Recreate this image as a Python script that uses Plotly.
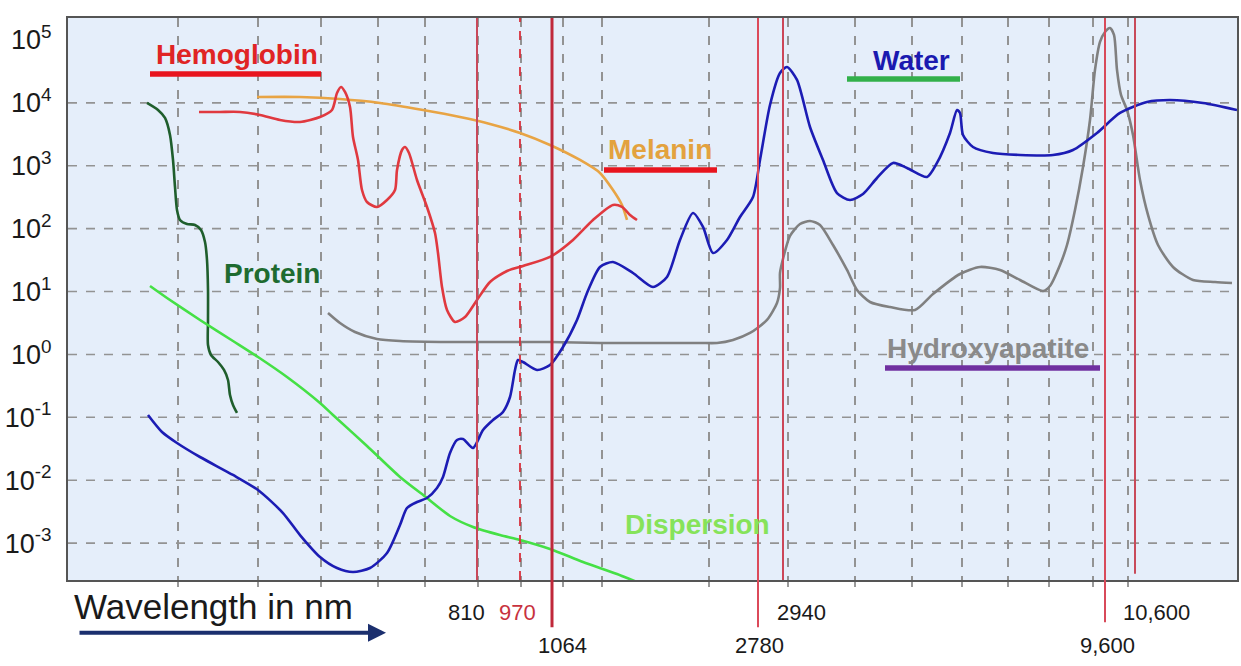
import numpy as np
import plotly.graph_objects as go

# ---- data (x = position along the schematic wavelength axis, y = log10 absorption) ----
protein_x = [147, 158, 165, 170, 173, 175, 177, 180, 187, 195, 201, 205, 207, 208, 208, 208, 211, 218, 224, 228, 230, 233, 237]
protein_log = [4.00, 3.887, 3.760, 3.490, 3.092, 2.663, 2.297, 2.138, 2.074, 2.059, 1.979, 1.788, 1.502, 1.025, 0.548, 0.150,
               -0.009, -0.120, -0.247, -0.406, -0.645, -0.804, -0.931]

hemo_x = [199, 220, 240, 260, 280, 300, 320, 332, 337, 341, 345, 350, 353, 358, 362, 367, 377, 387, 395, 397, 402, 405, 409,
          417, 427, 435, 438, 442, 447, 455, 465, 477, 490, 507, 523, 550, 573, 593, 613, 622, 630, 637]
hemo_log = [3.856, 3.856, 3.856, 3.808, 3.728, 3.697, 3.776, 3.887, 4.158, 4.253, 4.174, 3.935, 3.458, 3.092, 2.615, 2.424,
            2.345, 2.456, 2.615, 2.933, 3.251, 3.299, 3.204, 2.774, 2.345, 1.931, 1.613, 1.073, 0.707, 0.516, 0.595, 0.866,
            1.152, 1.327, 1.406, 1.550, 1.820, 2.138, 2.377, 2.345, 2.218, 2.138]

melanin_x = [257, 300, 340, 380, 423, 460, 490, 520, 550, 580, 600, 613, 622, 627]
melanin_log = [4.094, 4.094, 4.062, 3.999, 3.887, 3.776, 3.665, 3.522, 3.331, 3.092, 2.886, 2.615, 2.377, 2.138]

hydroxy_x = [328, 340, 355, 377, 400, 450, 500, 550, 600, 650, 700, 717, 733, 750, 767, 777, 780, 780, 784, 790, 800, 810,
             820, 833, 847, 857, 870, 890, 915, 933, 960, 980, 1000, 1020, 1043, 1050, 1060, 1067, 1075, 1083, 1090, 1095,
             1100, 1105, 1110, 1114, 1117, 1121, 1127, 1133, 1140, 1148, 1158, 1173, 1193, 1215, 1232]
hydroxy_log = [0.659, 0.500, 0.357, 0.246, 0.214, 0.198, 0.198, 0.198, 0.182, 0.182, 0.182, 0.182, 0.230, 0.341, 0.548,
               0.818, 1.057, 1.295, 1.581, 1.884, 2.074, 2.122, 2.059, 1.740, 1.343, 1.025, 0.834, 0.754, 0.707, 0.961,
               1.279, 1.391, 1.343, 1.184, 1.009, 1.088, 1.422, 1.740, 2.297, 2.981, 3.728, 4.524, 4.969, 5.128, 5.191,
               5.080, 4.524, 4.126, 3.887, 3.490, 2.774, 2.218, 1.740, 1.391, 1.184, 1.152, 1.136]

water_x = [148, 162, 177, 200, 233, 258, 283, 300, 320, 337, 353, 370, 387, 400, 407, 417, 427, 437, 443, 450, 457, 463,
           473, 483, 493, 503, 510, 515, 518, 523, 537, 550, 563, 577, 587, 600, 613, 633, 653, 667, 680, 693, 703, 713,
           727, 740, 753, 760, 770, 780, 787, 797, 810, 823, 837, 850, 863, 877, 893, 907, 927, 937, 950, 957, 960, 963,
           973, 993, 1020, 1053, 1073, 1097, 1120, 1147, 1170, 1203, 1237]
water_log = [-0.963, -1.233, -1.408, -1.631, -1.917, -2.156, -2.522, -2.872, -3.221, -3.396, -3.460, -3.396, -3.158,
             -2.712, -2.442, -2.347, -2.283, -2.124, -1.949, -1.567, -1.361, -1.345, -1.488, -1.202, -1.043, -0.915,
             -0.677, -0.247, -0.088, -0.120, -0.247, -0.168, 0.118, 0.548, 0.977, 1.391, 1.470, 1.295, 1.073, 1.232,
             1.820, 2.249, 2.027, 1.613, 1.820, 2.186, 2.504, 3.092, 3.967, 4.476, 4.571, 4.365, 3.617, 3.092, 2.567,
             2.456, 2.552, 2.806, 3.045, 2.965, 2.822, 3.045, 3.522, 3.887, 3.840, 3.490, 3.299, 3.204, 3.172, 3.172,
             3.251, 3.522, 3.840, 4.015, 4.046, 3.999, 3.887]

disp_x = [150, 167, 200, 233, 258, 287, 320, 333, 367, 400, 427, 450, 473, 500, 520, 550, 583, 617, 637]
disp_log = [1.088, 0.898, 0.548, 0.214, -0.041, -0.359, -0.772, -0.963, -1.456, -1.949, -2.283, -2.569, -2.744, -2.872,
            -2.951, -3.094, -3.301, -3.492, -3.619]

# laser wavelengths marked on the axis
laser_nm = ["810", "970", "1064", "2780", "2940", "9,600", "10,600"]
laser_pos = [477, 520, 552, 758, 783, 1105, 1135]

# vertical grid positions of the schematic wavelength axis
xgrid_pos = [178, 258, 321, 378, 425, 478, 521, 563, 602, 709, 788, 855, 912, 962, 1008, 1049, 1093, 1128]
decades = list(range(-3, 6))

# series labels
lab_text = ["Hemoglobin", "Protein", "Melanin", "Water", "Hydroxyapatite", "Dispersion"]
lab_x = [237, 272, 660, 911, 988, 697]
lab_log = [4.762, 1.295, 3.251, 4.667, 0.102, -2.712]
lab_color = ["#e02424", "#1e6b30", "#e3a23e", "#1a1ab0", "#8a8a8a", "#86e35a"]
bar_x0 = [150, None, 604, 847, 885, None]
bar_x1 = [321, None, 717, 960, 1100, None]
bar_log = [4.460, None, 2.933, 4.380, -0.216, None]
bar_color = ["#e8141e", None, "#e8141e", "#32b04a", "#7030a0", None]

FONT = "Liberation Sans, Arial, sans-serif"

fig = go.Figure()

series = [
    (protein_x, protein_log, "#1f5e2c"),
    (disp_x, disp_log, "#45e045"),
    (hydroxy_x, hydroxy_log, "#808080"),
    (melanin_x, melanin_log, "#e8a444"),
    (hemo_x, hemo_log, "#e0393f"),
    (water_x, water_log, "#1c1cb4"),
]
for xs, ls, col in series:
    fig.add_trace(go.Scatter(x=xs, y=10 ** np.array(ls), mode="lines",
                             line=dict(color=col, width=2.6, shape="spline", smoothing=0.7),
                             hoverinfo="skip", showlegend=False))

# laser triangle marker at 970 nm
fig.add_trace(go.Scatter(x=[laser_pos[1]], y=[10 ** -3.746], mode="markers",
                         marker=dict(symbol="triangle-up", size=10, color="#d8303c"),
                         cliponaxis=False, showlegend=False, hoverinfo="skip"))

shapes = []
# horizontal dashed grid (shapes on a log axis take data values)
for k in decades[:-1]:
    shapes.append(dict(type="line", xref="paper", x0=0, x1=1, yref="y", y0=10.0 ** k, y1=10.0 ** k,
                       line=dict(color="#939393", width=1.6, dash="dash"), layer="below"))

# laser lines
bottoms = [0, 0, -0.084, -0.084, 0, -0.075, 0.011]
widths = [2, 1.8, 3, 2, 2, 2, 2]
colors = ["#c8485a", "#d8303c", "#c0283a", "#dc4a5a", "#cc4658", "#d84a5a", "#c84a5a"]
dashes = ["solid", "dash", "solid", "solid", "solid", "solid", "solid"]
for p, b, w, c, d in zip(laser_pos, bottoms, widths, colors, dashes):
    shapes.append(dict(type="line", xref="x", x0=p, x1=p, yref="paper", y0=b, y1=1,
                       line=dict(color=c, width=w, dash=d), layer="above"))

# label bars
for x0, x1, yl, c in zip(bar_x0, bar_x1, bar_log, bar_color):
    if x0 is None:
        continue
    shapes.append(dict(type="line", xref="x", x0=x0, x1=x1, yref="y", y0=10.0 ** yl, y1=10.0 ** yl,
                       line=dict(color=c, width=5.5), layer="above"))

annotations = []
for t, x, yl, c in zip(lab_text, lab_x, lab_log, lab_color):
    annotations.append(dict(text=f"<b>{t}</b>", x=x, y=yl, xref="x", yref="y", showarrow=False,
                            font=dict(family=FONT, size=28, color=c), xanchor="center", yanchor="middle"))

# wavelength numbers below the axis
lab_rows = [-0.057, -0.057, -0.116, -0.116, -0.057, -0.116, -0.057]
lab_dx = [-11, -3, 10, 1, 18, 2, 21]
for nm, p, r, dx in zip(laser_nm, laser_pos, lab_rows, lab_dx):
    annotations.append(dict(text=nm, x=p, y=r, xref="x", yref="paper", xshift=dx, showarrow=False,
                            font=dict(family=FONT, size=22, color="#c8323e" if nm == "970" else "#1a1a1a"),
                            xanchor="center", yanchor="middle"))

annotations.append(dict(text="Wavelength in nm", x=72, y=-0.048, xref="x", yref="paper", showarrow=False,
                        xanchor="left", yanchor="middle", font=dict(family=FONT, size=35, color="#1a1a1a")))
annotations.append(dict(text="", x=386, y=-0.094, xref="x", yref="paper", ax=-308, ay=0,
                        showarrow=True, arrowhead=2, arrowsize=0.9, arrowwidth=4, arrowcolor="#1b2f6e"))

fig.update_layout(
    width=1241, height=666,
    margin=dict(l=68, r=4, t=18, b=86, autoexpand=False),
    paper_bgcolor="white", plot_bgcolor="#e5eefa",
    shapes=shapes, annotations=annotations,
    font=dict(family=FONT, color="#1a1a1a"),
    xaxis=dict(range=[68, 1237], tickvals=xgrid_pos, showticklabels=False, showgrid=True, automargin=False,
               gridcolor="#939393", gridwidth=1.6, griddash="dash", zeroline=False,
               showline=True, mirror=True, linecolor="#555555", linewidth=2,
               ticks="outside", ticklen=5, tickcolor="#9a9a9a", tickwidth=1.5),
    yaxis=dict(type="log", range=[-3.587, 5.35], tickvals=[10.0 ** k for k in decades], automargin=False,
               ticktext=[f"10<sup>{k}</sup>" for k in decades], showgrid=False, zeroline=False,
               showline=True, mirror=True, linecolor="#555555", linewidth=2,
               ticks="outside", ticklen=9, tickcolor="rgba(0,0,0,0)",
               tickfont=dict(family=FONT, size=27, color="#1a1a1a")),
)

fig.write_html("out.html", config={"responsive": False, "displayModeBar": False},
               post_script="document.body.style.margin='0px';document.body.style.padding='0px';")
